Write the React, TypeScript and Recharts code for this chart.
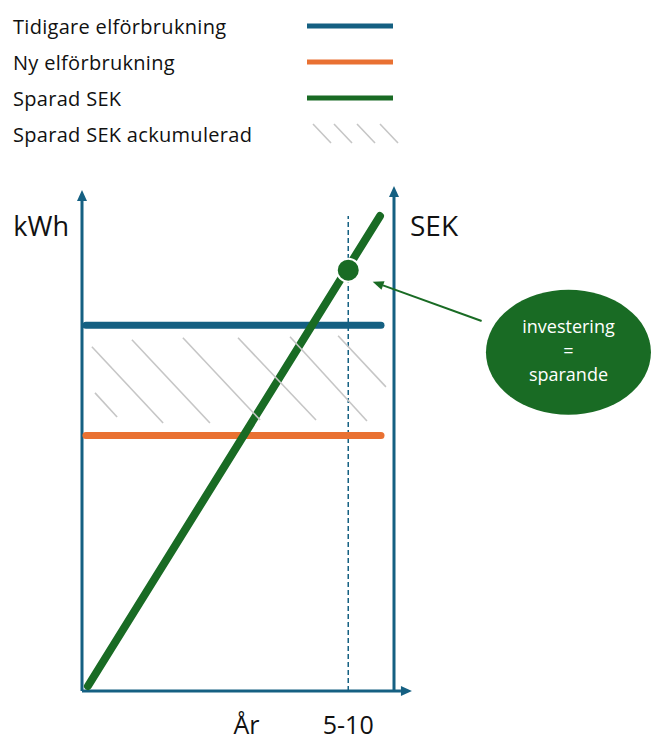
import React from 'react';
import { ComposedChart, Line, XAxis, YAxis, ReferenceLine, ReferenceDot, Legend } from 'recharts';

const BLUE = '#156082';
const ORANGE = '#E97132';
const GREEN = '#196B24';
const HATCH = '#c6c6c6';
const FONT = '"Open Sans", sans-serif';

// x = år (0–12), y = relativ nivå (0–100)
const tidigare = [{ x: 0.15, y: 73 }, { x: 11.5, y: 73 }];
const ny = [{ x: 0.15, y: 51 }, { x: 11.5, y: 51 }];
const sparad = [{ x: 0.23, y: 1 }, { x: 11.46, y: 94.8 }];

const seriesNames = ['Tidigare elförbrukning', 'Ny elförbrukning', 'Sparad SEK'];
const hatchName = 'Sparad SEK ackumulerad';

// break-even point ("5-10" år)
const breakEven = { x: 10.24, y: 84 };
const breakEvenTop = 94.8;

// diagonal hatch strokes between the two consumption lines: [x1, y1, x2, y2]
const hatchSegments = [
  [0.5, 59.5, 1.35, 54.7],
  [0.38, 68.7, 3.12, 53.5],
  [1.92, 70.1, 4.92, 53.5],
  [3.88, 70.5, 6.85, 54.1],
  [6.0, 70.5, 9.0, 54.1],
  [8.0, 70.7, 10.96, 53.9],
  [9.85, 70.9, 11.69, 60.7],
];

const axisTop = { left: 100, right: 100.8, xEnd: 12.69 };
const axisLabels = ['kWh', 'SEK'];
const xLabels = [{ x: 6.33, text: 'År' }, { x: breakEven.x, text: '5-10' }];
const calloutCenter = { x: 18.71, y: 67.6 };
const calloutLines = ['investering', '=', 'sparande'];
const calloutArrow = [{ x: 15.37, y: 73.85 }, { x: 11.18, y: 81.7 }];

const ArrowLine = (props: any) => {
  const { x1, y1, x2, y2, stroke, strokeWidth, head = 11, headWidth = 10 } = props;
  const a = Math.atan2(y2 - y1, x2 - x1);
  const bx = x2 - head * Math.cos(a);
  const by = y2 - head * Math.sin(a);
  const nx = -Math.sin(a) * (headWidth / 2);
  const ny2 = Math.cos(a) * (headWidth / 2);
  return (
    <g>
      <line x1={x1} y1={y1} x2={bx} y2={by} stroke={stroke} strokeWidth={strokeWidth} />
      <polygon points={`${x2},${y2} ${bx + nx},${by + ny2} ${bx - nx},${by - ny2}`} fill={stroke} />
    </g>
  );
};

const TextMark = ({ cx, cy, text, dx = 0, anchor = 'middle', size = 26 }: any) => (
  <text x={cx + dx} y={cy} textAnchor={anchor} fontFamily={FONT} fontSize={size} fill="#111">
    {text}
  </text>
);

const Callout = ({ cx, cy }: any) => (
  <g>
    <ellipse cx={cx} cy={cy} rx={82.5} ry={62.5} fill={GREEN} />
    {calloutLines.map((t, i) => (
      <text key={i} x={cx} y={cy + 5 + (i - 1) * 24} textAnchor="middle" fontFamily={FONT} fontSize={18} fill="#fff">
        {t}
      </text>
    ))}
  </g>
);

const LegendContent = ({ payload }: any) => {
  const items = [...(payload || [])].sort(
    (a: any, b: any) => seriesNames.indexOf(a.value) - seriesNames.indexOf(b.value)
  );
  return (
    <div style={{ fontFamily: FONT, fontSize: 20, letterSpacing: 0.3, color: '#111', paddingTop: 8, paddingLeft: 13 }}>
      {items.map((entry: any) => (
        <div key={entry.value} style={{ display: 'flex', alignItems: 'center', height: 36 }}>
          <span style={{ width: 294 }}>{entry.value}</span>
          <svg width={86} height={8}>
            <line x1={0} y1={4} x2={86} y2={4} stroke={entry.color} strokeWidth={5} />
          </svg>
        </div>
      ))}
      <div style={{ display: 'flex', alignItems: 'center', height: 36 }}>
        <span style={{ width: 294 }}>{hatchName}</span>
        <svg width={94} height={24}>
          {[6, 27, 50, 73].map((o) => (
            <line key={o} x1={o} y1={2} x2={o + 18} y2={21} stroke={HATCH} strokeWidth={1.6} />
          ))}
        </svg>
      </div>
    </div>
  );
};

export default function App() {
  return (
    <div>
      <style>{'body{margin:0}'}</style>
      <ComposedChart width={656} height={742} margin={{ top: 190, right: 262, bottom: 51, left: 82 }}>
        <XAxis type="number" dataKey="x" domain={[0, 12]} hide />
        <YAxis type="number" dataKey="y" domain={[0, 100]} hide />

        <Legend
          layout="horizontal"
          verticalAlign="middle"
          align="center"
          wrapperStyle={{ top: 0, left: 0, width: 420, height: 150 }}
          content={<LegendContent />}
        />

        {/* axes */}
        <ReferenceLine segment={[{ x: 0, y: 0 }, { x: 0, y: axisTop.left }]} stroke={BLUE} strokeWidth={3} ifOverflow="visible" shape={<ArrowLine />} />
        <ReferenceLine segment={[{ x: 12, y: 0 }, { x: 12, y: axisTop.right }]} stroke={BLUE} strokeWidth={3} ifOverflow="visible" shape={<ArrowLine />} />
        <ReferenceLine segment={[{ x: 0, y: 0 }, { x: axisTop.xEnd, y: 0 }]} stroke={BLUE} strokeWidth={3} ifOverflow="visible" shape={<ArrowLine />} />

        <ReferenceLine
          segment={[{ x: breakEven.x, y: 0 }, { x: breakEven.x, y: breakEvenTop }]}
          stroke={BLUE}
          strokeWidth={1.5}
          strokeDasharray="5 3"
          ifOverflow="visible"
        />

        <Line data={tidigare} dataKey="y" name={seriesNames[0]} stroke={BLUE} strokeWidth={7} strokeLinecap="round" dot={false} activeDot={false} isAnimationActive={false} />
        <Line data={ny} dataKey="y" name={seriesNames[1]} stroke={ORANGE} strokeWidth={7} strokeLinecap="round" dot={false} activeDot={false} isAnimationActive={false} />
        <Line data={sparad} dataKey="y" name={seriesNames[2]} stroke={GREEN} strokeWidth={8} strokeLinecap="round" dot={false} activeDot={false} isAnimationActive={false} />

        {hatchSegments.map((s, i) => (
          <ReferenceLine
            key={i}
            segment={[{ x: s[0], y: s[1] }, { x: s[2], y: s[3] }]}
            stroke={HATCH}
            strokeWidth={1.6}
            ifOverflow="visible"
          />
        ))}

        <ReferenceDot x={breakEven.x} y={breakEven.y} r={11.5} fill={GREEN} stroke="#fff" strokeWidth={2} ifOverflow="visible" />

        <ReferenceLine segment={calloutArrow} stroke={GREEN} strokeWidth={2} ifOverflow="visible" shape={<ArrowLine head={11} headWidth={9} />} />
        <ReferenceDot x={calloutCenter.x} y={calloutCenter.y} r={1} ifOverflow="visible" shape={<Callout />} />

        <ReferenceDot x={0} y={90.8} r={1} ifOverflow="visible" shape={<TextMark text={axisLabels[0]} dx={-13} anchor="end" size={27} />} />
        <ReferenceDot x={12} y={90.8} r={1} ifOverflow="visible" shape={<TextMark text={axisLabels[1]} dx={16} anchor="start" size={28} />} />
        {xLabels.map((l) => (
          <ReferenceDot key={l.text} x={l.x} y={-8.6} r={1} ifOverflow="visible" shape={<TextMark text={l.text} size={25} />} />
        ))}
      </ComposedChart>
    </div>
  );
}
